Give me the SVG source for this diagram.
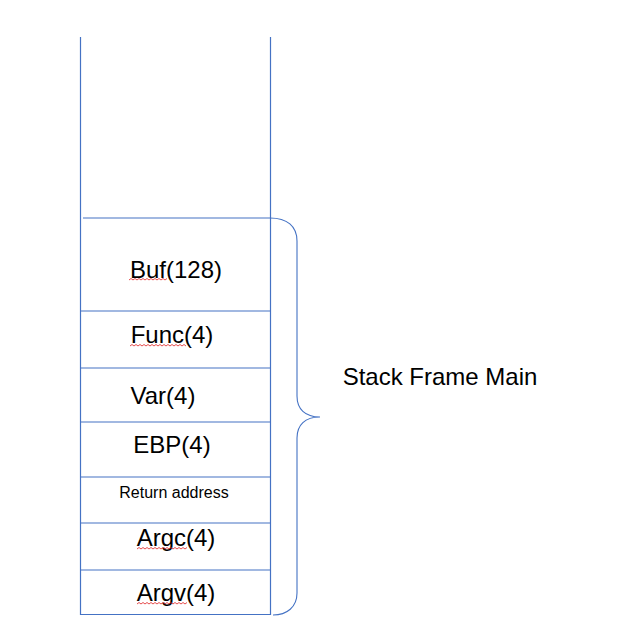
<svg xmlns="http://www.w3.org/2000/svg" width="625" height="621" viewBox="0 0 625 621">
<style>
.ln{stroke:#4472C4;stroke-width:1.2;fill:none}
.br{stroke:#4472C4;stroke-width:1.1;fill:none}
.t{font-family:"Liberation Sans",Arial,sans-serif;font-size:24px;fill:#000;text-anchor:middle}
.s{font-size:16px}
.sq{stroke:#E02020;stroke-width:0.8;fill:none}
</style>
<rect width="625" height="621" fill="#fff"/>
<g id="stack-walls">
<line class="ln" x1="80.5" y1="37" x2="80.5" y2="615"/>
<line class="ln" x1="270.5" y1="37" x2="270.5" y2="615"/>
</g>
<g id="buf">
<line class="ln" x1="83" y1="218" x2="270.5" y2="218"/>
<text class="t" x="176" y="278">Buf(128)</text>
<path class="sq" d="M129,280 l2,-1.5 l2,1.5 l2,-1.5 l2,1.5 l2,-1.5 l2,1.5 l2,-1.5 l2,1.5 l2,-1.5 l2,1.5 l2,-1.5 l2,1.5 l2,-1.5 l2,1.5 l2,-1.5 l2,1.5 l2,-1.5 l2,1.5 l2,-1.5"/>
</g>
<g id="func">
<line class="ln" x1="80.5" y1="311" x2="270.5" y2="311"/>
<text class="t" x="172" y="343">Func(4)</text>
<path class="sq" d="M130,346 l2,-1.5 l2,1.5 l2,-1.5 l2,1.5 l2,-1.5 l2,1.5 l2,-1.5 l2,1.5 l2,-1.5 l2,1.5 l2,-1.5 l2,1.5 l2,-1.5 l2,1.5 l2,-1.5 l2,1.5 l2,-1.5 l2,1.5 l2,-1.5 l2,1.5 l2,-1.5 l2,1.5 l2,-1.5 l2,1.5 l2,-1.5 l2,1.5 l2,-1.5 l2,1.5"/>
</g>
<g id="var">
<line class="ln" x1="80.5" y1="368" x2="270.5" y2="368"/>
<text class="t" x="163" y="404">Var(4)</text>
</g>
<g id="ebp">
<line class="ln" x1="80.5" y1="422" x2="270.5" y2="422"/>
<text class="t" x="172" y="453">EBP(4)</text>
</g>
<g id="return-address">
<line class="ln" x1="80.5" y1="477" x2="270.5" y2="477"/>
<text class="t s" x="174" y="498">Return address</text>
</g>
<g id="argc">
<line class="ln" x1="80.5" y1="523" x2="270.5" y2="523"/>
<text class="t" x="176" y="546">Argc(4)</text>
<path class="sq" d="M137,549 l2,-1.5 l2,1.5 l2,-1.5 l2,1.5 l2,-1.5 l2,1.5 l2,-1.5 l2,1.5 l2,-1.5 l2,1.5 l2,-1.5 l2,1.5 l2,-1.5 l2,1.5 l2,-1.5 l2,1.5 l2,-1.5 l2,1.5 l2,-1.5 l2,1.5 l2,-1.5 l2,1.5 l2,-1.5 l2,1.5 l2,-1.5"/>
</g>
<g id="argv">
<line class="ln" x1="80.5" y1="570" x2="270.5" y2="570"/>
<text class="t" x="176" y="601">Argv(4)</text>
<path class="sq" d="M137,604 l2,-1.5 l2,1.5 l2,-1.5 l2,1.5 l2,-1.5 l2,1.5 l2,-1.5 l2,1.5 l2,-1.5 l2,1.5 l2,-1.5 l2,1.5 l2,-1.5 l2,1.5 l2,-1.5 l2,1.5 l2,-1.5 l2,1.5 l2,-1.5 l2,1.5 l2,-1.5 l2,1.5 l2,-1.5 l2,1.5 l2,-1.5"/>
<line class="ln" x1="80.5" y1="614.5" x2="270.5" y2="614.5"/>
</g>
<g id="connectors">
<path class="br" d="M270,218 C287,218 297,226 297,241 L297,396 C297,409 305,417 320,417 C305,417 297,425 297,438 L297,593 C297,607 287,615 273,615"/>
</g>
<g id="stack-frame-label">
<text class="t" x="440" y="385">Stack Frame Main</text>
</g>
</svg>
